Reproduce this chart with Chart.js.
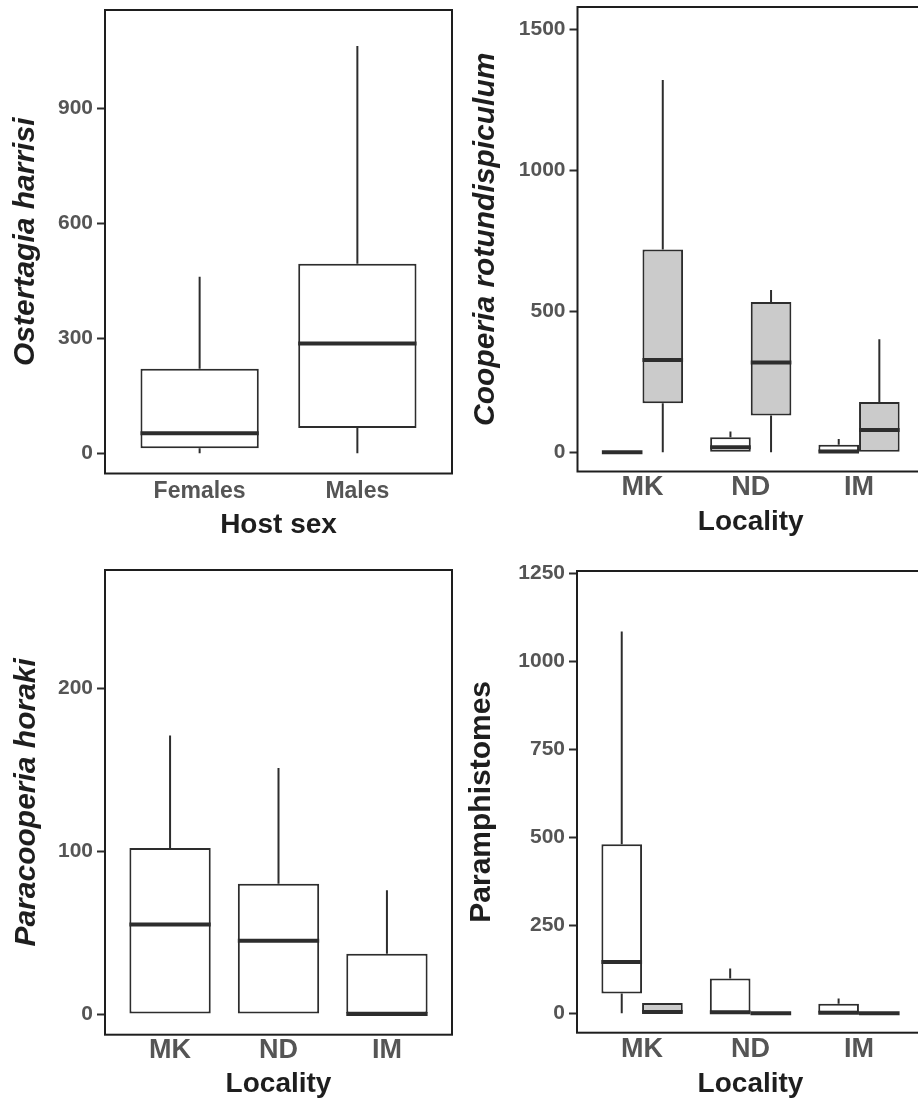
<!DOCTYPE html>
<html>
<head>
<meta charset="utf-8">
<script src="https://cdn.jsdelivr.net/npm/chart.js@4.4.1/dist/chart.umd.min.js"></script>
<style>
  html, body { margin: 0; padding: 0; background: #fff; overflow: hidden; }
  #fig { position: relative; width: 930px; height: 1103px; }
  .panel { position: absolute; }
  .panel canvas { display: block; }
</style>
</head>
<body>
<div id="fig">
  <div class="panel" style="left:0;top:0"><canvas id="ostChart"></canvas></div>
  <div class="panel" style="left:459px;top:0"><canvas id="coopChart"></canvas></div>
  <div class="panel" style="left:0;top:550px"><canvas id="paraChart"></canvas></div>
  <div class="panel" style="left:459px;top:550px"><canvas id="amphChart"></canvas></div>
</div>
<script>
// categories
const sexCategories = ['Females', 'Males'];
const localities = ['MK', 'ND', 'IM'];

// Ostertagia harrisi by host sex
const ostMin = [0, 0];
const ostQ1 = [13, 66];
const ostMedian = [52, 286];
const ostQ3 = [220, 494];
const ostMax = [460, 1062];
const ostTicks = [0, 300, 600, 900];

// Cooperia rotundispiculum, white and grey groups per locality
const coopWhiteMin = [0, 0, 0];
const coopWhiteQ1 = [0, 0, 0];
const coopWhiteMedian = [0, 18, 3];
const coopWhiteQ3 = [0, 53, 27];
const coopWhiteMax = [0, 74, 47];
const coopGreyMin = [0, 0, 0];
const coopGreyQ1 = [174, 130, 0];
const coopGreyMedian = [327, 318, 79];
const coopGreyQ3 = [719, 533, 178];
const coopGreyMax = [1319, 575, 401];
const coopTicks = [0, 500, 1000, 1500];

// Paracooperia horaki per locality
const paraMin = [0, 0, 0];
const paraQ1 = [0, 0, 0];
const paraMedian = [55, 45, 0];
const paraQ3 = [102, 80, 37];
const paraMax = [171, 151, 76];
const paraTicks = [0, 100, 200];

// Paramphistomes, white and grey groups per locality
const amphWhiteMin = [0, 0, 0];
const amphWhiteQ1 = [56, 0, 0];
const amphWhiteMedian = [146, 3, 2];
const amphWhiteQ3 = [480, 99, 27];
const amphWhiteMax = [1084, 127, 42];
const amphGreyMin = [0, 0, 0];
const amphGreyQ1 = [0, 0, 0];
const amphGreyMedian = [4, 0, 0];
const amphGreyQ3 = [29, 0, 0];
const amphGreyMax = [29, 0, 0];
const amphTicks = [0, 250, 500, 750, 1000, 1250];

const LINE = '#2d2d2d';
const FRAME = '#1e1e1e';
const TICK_TEXT = '#555555';
const TITLE_TEXT = '#1e1e1e';
const WHITE = '#ffffff';
const GREY = '#cbcbcb';
const FONT = '"Liberation Sans", Arial, sans-serif';

// whiskers, medians and panel frame
const boxWhiskers = {
    id: 'boxWhiskers',
    afterDatasetsDraw(chart) {
        const { ctx, chartArea, scales: { y } } = chart;
        ctx.save();
        ctx.beginPath();
        ctx.rect(chartArea.left, chartArea.top, chartArea.right - chartArea.left, chartArea.bottom - chartArea.top);
        ctx.clip();
        ctx.strokeStyle = LINE;
        ctx.lineCap = 'butt';
        chart.data.datasets.forEach((ds, di) => {
            const s = ds.stats;
            chart.getDatasetMeta(di).data.forEach((bar, i) => {
                ctx.lineWidth = 2;
                ctx.beginPath();
                if (s.max[i] > s.q3[i]) {
                    ctx.moveTo(bar.x, y.getPixelForValue(s.q3[i]));
                    ctx.lineTo(bar.x, y.getPixelForValue(s.max[i]));
                }
                if (s.min[i] < s.q1[i]) {
                    ctx.moveTo(bar.x, y.getPixelForValue(s.q1[i]));
                    ctx.lineTo(bar.x, y.getPixelForValue(s.min[i]));
                }
                ctx.stroke();
                const half = bar.width / 2;
                const ym = y.getPixelForValue(s.median[i]);
                ctx.lineWidth = 4;
                ctx.beginPath();
                ctx.moveTo(bar.x - half, ym);
                ctx.lineTo(bar.x + half, ym);
                ctx.stroke();
            });
        });
        ctx.restore();
    },
    afterDraw(chart) {
        const { ctx, chartArea: a } = chart;
        ctx.save();
        ctx.strokeStyle = FRAME;
        ctx.lineWidth = 2;
        ctx.strokeRect(a.left, a.top, a.right - a.left, a.bottom - a.top);
        ctx.restore();
    }
};

function drawPanel(id, cfg) {
    const canvas = document.getElementById(id);
    canvas.width = cfg.w;
    canvas.height = cfg.h;

    new Chart(canvas, {
        type: 'bar',
        data: {
            datasets: cfg.series.map(s => ({
                data: cfg.labels.map((_, i) => ({ x: i + 1, y: [s.q1[i], s.q3[i]] })),
                stats: s,
                backgroundColor: s.fill,
                borderColor: LINE,
                borderWidth: 2,
                borderSkipped: false,
                categoryPercentage: 0.75,
                barPercentage: 1
            }))
        },
        options: {
            responsive: false,
            animation: false,
            devicePixelRatio: 1,
            layout: { padding: { left: 0, top: cfg.area.top, right: cfg.w - cfg.area.right, bottom: 0 } },
            plugins: { legend: { display: false }, tooltip: { enabled: false } },
            scales: {
                x: {
                    type: 'linear',
                    offset: false,
                    min: 0.4,
                    max: cfg.labels.length + 0.6,
                    afterBuildTicks: s => { s.ticks = cfg.labels.map((_, i) => ({ value: i + 1 })); },
                    afterFit: s => { s.height = cfg.h - cfg.area.bottom; s.paddingLeft = 0; s.paddingRight = 0; },
                    grid: { display: false, drawTicks: false },
                    border: { display: false },
                    ticks: {
                        autoSkip: false,
                        maxRotation: 0,
                        padding: cfg.xTickPad,
                        color: TICK_TEXT,
                        font: { family: FONT, size: cfg.xTickSize, weight: 'bold', lineHeight: 1 },
                        callback: v => cfg.labels[Math.round(v) - 1]
                    },
                    title: {
                        display: true,
                        text: cfg.xTitle,
                        color: TITLE_TEXT,
                        font: { family: FONT, size: 28, weight: 'bold' },
                        padding: { top: 0, bottom: cfg.xTitlePad }
                    }
                },
                y: {
                    min: cfg.yMin,
                    max: cfg.yMax,
                    afterBuildTicks: s => { s.ticks = cfg.ticks.map(v => ({ value: v })); },
                    afterFit: s => { s.width = cfg.area.left; s.paddingTop = 0; s.paddingBottom = 0; },
                    grid: { display: true, drawOnChartArea: false, drawTicks: true, tickLength: 8, tickWidth: 2, tickColor: LINE },
                    border: { display: false },
                    ticks: {
                        autoSkip: false,
                        padding: 4,
                        color: TICK_TEXT,
                        font: { family: FONT, size: 21, weight: 'bold' },
                        callback: v => String(v)
                    },
                    title: {
                        display: true,
                        text: cfg.yTitle,
                        color: TITLE_TEXT,
                        font: { family: FONT, size: 30, weight: 'bold', style: cfg.yItalic ? 'italic' : 'normal' },
                        padding: { top: cfg.yTitlePad, bottom: 0 }
                    }
                }
            }
        },
        plugins: [boxWhiskers]
    });
}

drawPanel('ostChart', {
    w: 459, h: 550,
    area: { left: 105, top: 10, right: 452, bottom: 473.5 },
    labels: sexCategories,
    series: [{ min: ostMin, q1: ostQ1, median: ostMedian, q3: ostQ3, max: ostMax, fill: WHITE }],
    yMin: -53, yMax: 1156, ticks: ostTicks,
    xTickSize: 23, xTickPad: 7, xTitle: 'Host sex', xTitlePad: 8,
    yTitle: 'Ostertagia harrisi', yItalic: true, yTitlePad: 8
});

drawPanel('coopChart', {
    w: 471, h: 550,
    area: { left: 118.5, top: 7, right: 465, bottom: 471.5 },
    labels: localities,
    series: [
        { min: coopWhiteMin, q1: coopWhiteQ1, median: coopWhiteMedian, q3: coopWhiteQ3, max: coopWhiteMax, fill: WHITE },
        { min: coopGreyMin, q1: coopGreyQ1, median: coopGreyMedian, q3: coopGreyQ3, max: coopGreyMax, fill: GREY }
    ],
    yMin: -68, yMax: 1578, ticks: coopTicks,
    xTickSize: 27, xTickPad: 3, xTitle: 'Locality', xTitlePad: 11,
    yTitle: 'Cooperia rotundispiculum', yItalic: true, yTitlePad: 9
});

drawPanel('paraChart', {
    w: 459, h: 553,
    area: { left: 105, top: 20, right: 452, bottom: 484.7 },
    labels: localities,
    series: [{ min: paraMin, q1: paraQ1, median: paraMedian, q3: paraQ3, max: paraMax, fill: WHITE }],
    yMin: -12.7, yMax: 272.6, ticks: paraTicks,
    xTickSize: 27, xTickPad: 2, xTitle: 'Locality', xTitlePad: 2,
    yTitle: 'Paracooperia horaki', yItalic: true, yTitlePad: 9
});

drawPanel('amphChart', {
    w: 471, h: 553,
    area: { left: 118, top: 21, right: 465, bottom: 482.7 },
    labels: localities,
    series: [
        { min: amphWhiteMin, q1: amphWhiteQ1, median: amphWhiteMedian, q3: amphWhiteQ3, max: amphWhiteMax, fill: WHITE },
        { min: amphGreyMin, q1: amphGreyQ1, median: amphGreyMedian, q3: amphGreyQ3, max: amphGreyMax, fill: GREY }
    ],
    yMin: -55, yMax: 1256, ticks: amphTicks,
    xTickSize: 27, xTickPad: 3, xTitle: 'Locality', xTitlePad: 2,
    yTitle: 'Paramphistomes', yItalic: false, yTitlePad: 5
});
</script>
</body>
</html>
